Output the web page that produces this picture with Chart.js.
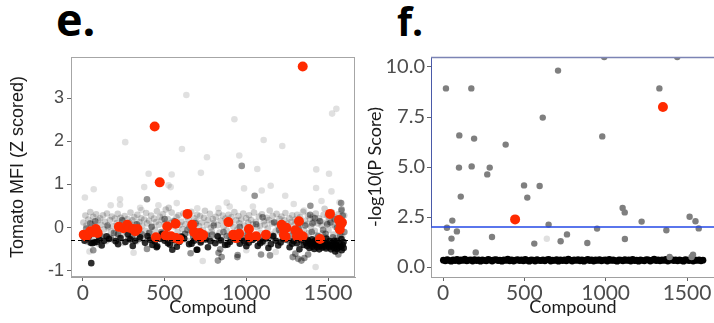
<!DOCTYPE html>
<html>
<head>
<meta charset="utf-8">
<script src="https://cdn.jsdelivr.net/npm/chart.js@4/dist/chart.umd.min.js"></script>
<style>
  html, body { margin:0; padding:0; background:#fff; }
  body { width:714px; height:323px; overflow:hidden; position:relative; }
  canvas { position:absolute; top:0; }
  #ce { left:0; }
  #cf { left:360px; }
  .ttl { position:absolute; font-family:"Open Sans", sans-serif; font-weight:700; color:#000; line-height:1; }
  #te { left:56px; top:-4px; font-size:45px; }
  #tf { left:397px; top:1px; font-size:39px; }
</style>
</head>
<body>
<div class="ttl" id="te">e.</div>
<div class="ttl" id="tf">f.</div>
<canvas id="ce" width="360" height="323"></canvas>
<canvas id="cf" width="360" height="323"></canvas>
<script>
// ---------- Panel e data ----------
const eXTicks = [0, 500, 1000, 1500];
const eYTicks = [-1, 0, 1, 2, 3];
const eThreshold = -0.28;

const eCloudX = [
3,9,15,21,27,33,39,45,51,57,63,69,75,81,87,93,99,105,111,117,
123,129,135,141,147,153,159,165,171,177,183,189,195,201,207,213,219,225,231,237,
243,249,255,261,267,273,279,285,291,297,303,309,315,321,327,333,339,345,351,357,
363,369,375,381,387,393,399,405,411,417,423,429,435,441,447,453,459,465,471,477,
483,489,495,501,507,513,519,525,531,537,543,549,555,561,567,573,579,585,591,597,
603,609,615,621,627,633,639,645,651,657,663,669,675,681,687,693,699,705,711,717,
723,729,735,741,747,753,759,765,771,777,783,789,795,801,807,813,819,825,831,837,
843,849,855,861,867,873,879,885,891,897,903,909,915,921,927,933,939,945,951,957,
963,969,975,981,987,993,999,1005,1011,1017,1023,1029,1035,1041,1047,1053,1059,1065,1071,1077,
1083,1089,1095,1101,1107,1113,1119,1125,1131,1137,1143,1149,1155,1161,1167,1173,1179,1185,1191,1197,
1203,1209,1215,1221,1227,1233,1239,1245,1251,1257,1263,1269,1275,1281,1287,1293,1299,1305,1311,1317,
1323,1329,1335,1341,1347,1353,1359,1365,1371,1377,1383,1389,1395,1401,1407,1413,1419,1425,1431,1437,
1443,1449,1455,1461,1467,1473,1479,1485,1491,1497,1503,1509,1515,1521,1527,1533,1539,1545,1551,1557,
1563,1569,1575,1581,1587,1593,1599];
const eCloudY = [
0.12,-0.21,0.28,0.05,-0.33,0.19,-0.08,0.36,-0.15,0.09,0.25,-0.27,0.02,0.31,-0.11,0.17,-0.38,0.22,0.07,-0.19,
0.29,-0.04,0.14,-0.31,0.33,0.01,-0.22,0.18,-0.09,0.26,0.04,-0.29,0.21,-0.13,0.11,0.32,-0.24,0.06,0.23,-0.17,
0.15,-0.35,0.27,0.03,-0.1,0.2,-0.26,0.12,0.35,-0.06,0.17,-0.2,0.24,0.08,-0.32,0.3,-0.02,0.13,-0.18,0.22,
0.05,-0.28,0.19,-0.07,0.34,0.1,-0.23,0.16,-0.12,0.28,0.02,-0.3,0.21,-0.05,0.13,0.38,-0.2,0.07,0.25,-0.14,
0.18,0.31,-0.25,0.09,0.42,-0.08,0.2,0.46,-0.17,0.11,0.35,-0.27,0.16,0.03,-0.36,0.24,-0.1,0.29,0.06,-0.21,
0.14,-0.03,0.33,-0.16,0.08,0.26,-0.3,0.19,0.01,-0.12,0.37,0.1,-0.24,0.22,-0.07,0.15,0.3,-0.19,0.04,0.27,
-0.33,0.12,-0.05,0.23,0.39,-0.14,0.07,0.18,-0.26,0.32,0.0,-0.09,0.2,0.11,-0.29,0.25,-0.18,0.06,0.34,-0.11,
0.16,-0.22,0.28,0.03,-0.34,0.21,-0.06,0.13,0.3,-0.2,0.09,0.24,-0.13,0.02,0.36,-0.27,0.17,-0.04,0.27,0.1,
-0.24,0.19,-0.1,0.33,0.05,-0.31,0.22,-0.15,0.12,0.29,-0.07,0.18,-0.28,0.08,0.35,-0.19,0.14,0.01,-0.23,0.26,
0.04,-0.12,0.31,-0.26,0.15,0.07,-0.35,0.23,-0.02,0.18,0.4,-0.16,0.1,0.27,-0.21,0.13,-0.08,0.32,0.05,-0.3,
0.2,-0.11,0.26,0.02,-0.25,0.17,0.34,-0.18,0.09,-0.04,0.22,-0.32,0.14,0.29,-0.09,0.06,0.19,-0.23,0.3,0.0,
-0.15,0.24,0.11,-0.28,0.37,-0.06,0.16,-0.2,0.08,0.28,-0.12,0.21,0.03,-0.34,0.25,0.13,-0.07,0.33,-0.17,0.1,
0.22,-0.27,0.15,0.05,-0.13,0.3,0.44,-0.21,0.12,0.27,-0.05,0.19,-0.3,0.36,0.07,-0.16,0.24,0.02,-0.24,0.17,
0.31,-0.1,0.2,0.39,-0.19,0.12,0.28];

const eFaintX = [633,259,927,1106,1220,606,759,957,1067,402,543,722,1428,1506,1525,1551,12,66,375,227,
227,524,574,1149,1238,898,829,1521,1353,1570,1424,733,537,986,1094,1427,700,350,358,170,
1290,1460,40,310,1000,1180,880,462,1040];
const eFaintY = [3.07,1.98,2.51,2.03,1.89,1.82,1.63,1.67,1.36,1.25,1.23,1.27,1.35,1.25,2.64,2.75,0.70,0.89,0.94,0.66,
0.53,0.98,0.57,0.97,0.74,0.49,0.45,0.84,0.40,0.59,-0.91,-0.77,0.94,0.91,0.86,0.92,0.45,0.46,0.41,0.52,
0.55,0.62,-0.55,-0.58,-0.52,-0.56,0.58,0.52,0.49];

const eMidX = [972,392,1051,1392,1580,1583,63,392,659,826,849,945,1145,1284,1317,1337,1378,1563,1100,1390,
1495,1515,840,830,947,1090,1300,1355,20,45,110,150,190,240,280,330,360,420,
480,560,600,640,690,760,800,860,905,960,1010,1060,1130,1170,1200,1260,1320,1360,1420,1450,
1470,1540,1590,1555,1600,1405,75,500,720,990,
35,95,170,215,300,345,405,455,530,585,625,675,735,790,835,880,925,985,1035,1085,
1115,1160,1225,1275,1345,1400,1440,1485,1530,1575];
const eMidY = [1.43,0.66,0.74,0.51,0.57,0.42,-0.52,-0.49,-0.59,-0.76,-0.68,-0.68,-0.64,-0.68,-0.72,-0.76,-0.62,-0.62,0.24,0.30,
0.08,0.12,-0.50,-0.58,-0.63,-0.62,-0.60,-0.70,-0.02,0.10,-0.20,0.05,-0.12,0.18,-0.25,0.08,-0.15,0.02,
-0.10,0.15,-0.20,-0.05,0.10,-0.18,0.05,-0.10,-0.28,0.02,-0.15,0.08,-0.22,0.12,-0.05,-0.30,0.0,0.05,0.22,0.15,
-0.05,0.20,0.28,0.0,-0.10,0.10,0.15,0.20,-0.30,-0.35,
-0.22,-0.18,-0.24,-0.15,-0.2,-0.26,-0.12,-0.23,-0.17,-0.27,-0.14,-0.21,-0.25,-0.16,-0.3,-0.19,-0.13,-0.24,-0.2,-0.28,
-0.15,-0.22,-0.26,-0.18,-0.24,-0.1,-0.2,-0.14,-0.22,-0.18];

const eDarkX = [51,547,696,451,47,58,70,455,532,700,10,25,85,100,130,160,200,230,260,290,
320,350,380,410,440,470,500,520,560,590,620,650,680,720,750,780,810,845,870,900,
930,960,985,1015,1040,1070,1100,1120,1150,1180,1210,1240,1265,1290,1310,1335,1350,1365,1372,1380,
1386,1392,1398,1404,1410,1416,1422,1428,1434,1440,1446,1452,1458,1464,1470,1476,1482,1488,1494,1500,
1506,1512,1518,1524,1530,1536,1542,1548,1554,1560,1566,1572,1578,1584,1590,1596,1375,1420,1465,1510,
1555,1595,
38,115,145,215,275,305,395,425,485,575,605,665,735,765,825,885,915,1000,1055,1085,
1135,1165,1195,1225,1280,1325,1402,1448,1490,1538,1582,1544];
const eDarkY = [-0.82,-0.51,-0.51,-0.45,-0.35,-0.36,-0.34,-0.43,-0.39,-0.51,-0.30,-0.25,-0.33,-0.28,-0.30,-0.26,-0.31,-0.24,-0.33,-0.27,
-0.30,-0.22,-0.35,-0.28,-0.32,-0.26,-0.30,-0.36,-0.29,-0.33,-0.25,-0.38,-0.30,-0.34,-0.27,-0.31,-0.36,-0.29,-0.40,-0.33,
-0.26,-0.37,-0.30,-0.35,-0.28,-0.42,-0.32,-0.25,-0.38,-0.30,-0.34,-0.27,-0.45,-0.31,-0.36,-0.29,-0.40,-0.35,-0.42,-0.31,
-0.47,-0.38,-0.33,-0.44,-0.36,-0.49,-0.40,-0.34,-0.45,-0.38,-0.50,-0.42,-0.35,-0.46,-0.39,-0.44,-0.36,-0.48,-0.41,-0.37,
-0.45,-0.40,-0.50,-0.43,-0.38,-0.47,-0.41,-0.36,-0.49,-0.42,-0.46,-0.39,-0.44,-0.52,-0.40,-0.47,-0.28,-0.30,-0.29,-0.31,
-0.30,-0.33,
-0.18,-0.41,-0.2,-0.38,-0.15,-0.42,-0.19,-0.4,-0.14,-0.44,-0.21,-0.37,-0.17,-0.45,-0.2,-0.39,-0.16,-0.43,-0.22,-0.36,
-0.47,-0.19,-0.41,-0.15,-0.37,-0.5,-0.27,-0.32,-0.25,-0.3,-0.26,-0.55];

const eRedX = [1345,439,470,5,20,33,45,63,79,90,220,247,271,285,308,334,320,447,506,516,
567,540,570,590,640,669,680,700,715,736,725,890,920,938,956,1016,1020,1060,1120,1216,
1228,1245,1230,1240,1322,1300,1320,1345,1310,1451,1512,1567,1578,1572,1585];
const eRedY = [3.73,2.34,1.05,-0.16,-0.20,-0.14,-0.08,-0.10,-0.03,-0.12,0.02,-0.01,0.07,0.0,-0.03,-0.03,-0.08,-0.22,-0.18,0.03,
0.09,-0.20,-0.24,-0.27,0.32,0.07,-0.10,-0.19,-0.12,-0.17,-0.22,0.13,-0.16,-0.24,-0.14,-0.03,-0.22,-0.20,-0.16,0.07,
-0.02,0.0,-0.17,-0.21,0.15,-0.06,-0.12,-0.20,-0.20,-0.26,0.32,0.18,0.08,-0.04,0.12];

// ---------- Panel f data ----------
const fXTicks = [0, 500, 1000, 1500];
const fYTicks = [0, 2.5, 5, 7.5, 10];
const fThreshold = 2;

const fBandX = [
2,14,26,38,50,62,74,86,98,110,122,134,146,158,170,182,194,206,218,230,
242,254,266,278,290,302,314,326,338,350,362,374,386,398,410,422,434,446,458,470,
482,494,506,518,530,542,554,566,578,590,602,614,626,638,650,662,674,686,698,710,
722,734,746,758,770,782,794,806,818,830,842,854,866,878,890,902,914,926,938,950,
962,974,986,998,1010,1022,1034,1046,1058,1070,1082,1094,1106,1118,1130,1142,1154,1166,1178,1190,
1202,1214,1226,1238,1250,1262,1274,1286,1298,1310,1322,1334,1346,1358,1370,1382,1394,1406,1418,1430,
1442,1454,1466,1478,1490,1502,1514,1526,1538,1550,1562,1574,1586,1598];
const fBandY = [
0.34,0.31,0.37,0.33,0.29,0.36,0.32,0.38,0.30,0.35,0.33,0.39,0.31,0.34,0.36,0.30,0.37,0.32,0.35,0.29,
0.36,0.33,0.31,0.38,0.34,0.30,0.35,0.37,0.32,0.34,0.29,0.36,0.33,0.39,0.31,0.35,0.30,0.34,0.37,0.32,
0.35,0.31,0.38,0.33,0.29,0.36,0.34,0.30,0.37,0.33,0.32,0.35,0.31,0.36,0.38,0.30,0.34,0.33,0.37,0.29,
0.36,0.32,0.35,0.31,0.39,0.34,0.30,0.36,0.33,0.37,0.31,0.35,0.29,0.34,0.38,0.32,0.36,0.30,0.35,0.33,
0.37,0.31,0.34,0.36,0.30,0.38,0.33,0.35,0.32,0.29,0.36,0.34,0.31,0.37,0.33,0.35,0.30,0.38,0.32,0.34,
0.29,0.36,0.33,0.31,0.37,0.35,0.30,0.34,0.39,0.32,0.35,0.31,0.36,0.33,0.38,0.30,0.34,0.37,0.32,0.35,
0.31,0.36,0.33,0.29,0.37,0.34,0.32,0.38,0.30,0.35,0.33,0.36,0.31,0.34];

const fGreyX = [18,174,100,191,385,613,707,979,1330,991,1440,98,176,287,272,109,498,594,518,57,
24,52,85,50,301,201,649,561,723,762,887,947,1104,1117,1118,1221,1373,1516,1552,1572,
1537,1393,1528];
const fGreyY = [8.93,8.93,6.58,6.42,6.12,7.47,9.82,6.53,8.93,10.5,10.5,4.97,5.03,4.97,4.63,3.52,4.08,4.05,3.47,2.32,
1.96,1.42,1.78,0.75,1.50,0.73,2.12,1.17,1.29,1.63,1.20,1.92,2.95,2.73,1.40,2.27,1.84,2.51,2.29,1.93,
0.62,0.50,0.50];
const fLightX = [638];
const fLightY = [1.41];
const fRedX = [443, 1352];
const fRedY = [2.38, 8.0];

// ---------- helpers ----------
const pts = (xs, ys) => xs.map((x, i) => ({x: x, y: ys[i]}));
const RED = '#ff2a00';
const FUT = 'Lato, "DejaVu Sans", sans-serif';
const HEL = '"Liberation Sans", Arial, sans-serif';

function ds(data, color, r, order) {
  return { data: data, pointRadius: r, pointHoverRadius: r, pointBackgroundColor: color,
           pointBorderWidth: 0, borderWidth: 0, showLine: false, order: order, clip: 0 };
}

const ePlugin = {
  id: 'eDecor',
  afterDatasetsDraw(chart) {
    const {ctx, chartArea: a, scales} = chart;
    ctx.save();
    ctx.strokeStyle = '#a6a6a6'; ctx.lineWidth = 1;
    ctx.strokeRect(a.left + 0.5, a.top + 0.5, a.right - a.left - 1, a.bottom - a.top - 1);
    const y = Math.round(scales.y.getPixelForValue(eThreshold)) + 0.5;
    ctx.strokeStyle = '#000'; ctx.setLineDash([4, 3]);
    ctx.beginPath(); ctx.moveTo(a.left, y); ctx.lineTo(a.right, y); ctx.stroke();
    ctx.restore();
  }
};

const fPlugin = {
  id: 'fDecor',
  afterDatasetsDraw(chart) {
    const {ctx, chartArea: a, scales} = chart;
    ctx.save();
    const y = scales.y.getPixelForValue(fThreshold);
    ctx.strokeStyle = '#2347e6'; ctx.lineWidth = 1.5;
    ctx.beginPath(); ctx.moveTo(a.left, y); ctx.lineTo(a.right, y); ctx.stroke();
    ctx.strokeStyle = '#4a5aa8'; ctx.lineWidth = 1;
    ctx.beginPath(); ctx.moveTo(a.left + 0.5, y); ctx.lineTo(a.left + 0.5, a.top); ctx.stroke();
    ctx.strokeStyle = '#7c84b4'; ctx.lineWidth = 1.5;
    ctx.beginPath(); ctx.moveTo(a.left, a.top + 0.5); ctx.lineTo(a.right, a.top + 0.5); ctx.stroke();
    ctx.restore();
  }
};

function axisCommon(ticksArr, fontFam, fontSize, pad, fmt) {
  return {
    type: 'linear',
    afterBuildTicks: s => { s.ticks = ticksArr.map(v => ({value: v})); },
    ticks: { font: {family: fontFam, size: fontSize}, color: '#4d4d4d', padding: pad,
             autoSkip: false, maxRotation: 0, callback: fmt },
    grid: { drawOnChartArea: false, drawTicks: true, tickLength: 4, tickColor: '#666', tickWidth: 1 },
    border: { display: true, color: '#a0a0a0', width: 1 }
  };
}

// ---------- Chart e ----------
const exAxis = axisCommon(eXTicks, FUT, 21, 0, v => String(v));
Object.assign(exAxis, { min: -73, max: 1665, position: 'bottom',
  afterFit: s => { s.height = 46; },
  title: { display: true, text: 'Compound', color: '#1a1a1a', font: {family: FUT, size: 18}, padding: {top: 0, bottom: 5} } });
const eyAxis = axisCommon(eYTicks, HEL, 18, 3, v => String(v));
Object.assign(eyAxis, { min: -1.14, max: 3.95, position: 'left',
  afterFit: s => { s.width = 71; },
  title: { display: true, text: 'Tomato MFI (Z scored)', color: '#1a1a1a', font: {family: HEL, size: 18}, padding: {top: 7, bottom: 0} } });

new Chart(document.getElementById('ce'), {
  type: 'scatter',
  data: { datasets: [
    ds(pts(eRedX, eRedY), RED, 5, 0),
    ds(pts(eDarkX, eDarkY), 'rgba(0,0,0,0.82)', 3.3, 1),
    ds(pts(eMidX, eMidY), 'rgba(0,0,0,0.42)', 3.3, 2),
    ds(pts(eFaintX, eFaintY), 'rgba(0,0,0,0.12)', 3.3, 3),
    ds(pts(eCloudX, eCloudY), 'rgba(0,0,0,0.19)', 3.3, 4)
  ]},
  options: {
    responsive: false, animation: false, devicePixelRatio: 1,
    layout: { padding: { left: 0, right: 5, top: 57, bottom: 0 } },
    plugins: { legend: {display: false}, tooltip: {enabled: false} },
    scales: { x: exAxis, y: eyAxis }
  },
  plugins: [ePlugin]
});

// ---------- Chart f ----------
const fxAxis = axisCommon(fXTicks, FUT, 21, 0, v => String(v));
Object.assign(fxAxis, { min: -74, max: 1672, position: 'bottom',
  afterFit: s => { s.height = 46; },
  title: { display: true, text: 'Compound', color: '#1a1a1a', font: {family: FUT, size: 18}, padding: {top: 0, bottom: 5} } });
const fyAxis = axisCommon(fYTicks, FUT, 20, 2, v => v.toFixed(1));
Object.assign(fyAxis, { min: -0.5, max: 10.5, position: 'left',
  afterFit: s => { s.width = 71; },
  title: { display: true, text: '-log10(P Score)', color: '#1a1a1a', font: {family: FUT, size: 18}, padding: {top: 4, bottom: 0} } });

new Chart(document.getElementById('cf'), {
  type: 'scatter',
  data: { datasets: [
    ds(pts(fRedX, fRedY), RED, 5, 0),
    ds(pts(fGreyX, fGreyY), '#7f7f7f', 3.2, 1),
    ds(pts(fLightX, fLightY), '#e0e0e0', 3.2, 2),
    ds(pts(fBandX, fBandY), '#000000', 3.4, 3)
  ]},
  options: {
    responsive: false, animation: false, devicePixelRatio: 1,
    layout: { padding: { left: 0, right: 5, top: 57, bottom: 0 } },
    plugins: { legend: {display: false}, tooltip: {enabled: false} },
    scales: { x: fxAxis, y: fyAxis }
  },
  plugins: [fPlugin]
});
</script>
</body>
</html>
